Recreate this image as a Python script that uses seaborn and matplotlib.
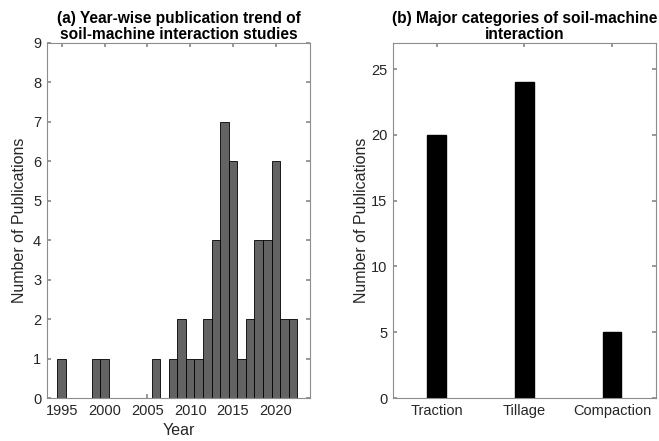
import matplotlib
matplotlib.use("Agg")
import matplotlib.pyplot as plt
import seaborn as sns
import pandas as pd

years = [1995, 1999, 2000, 2006, 2008, 2009, 2010, 2011, 2012, 2013, 2014,
         2015, 2016, 2017, 2018, 2019, 2020, 2021, 2022]
counts = [1, 1, 1, 1, 1, 2, 1, 1, 2, 4, 7, 6, 1, 2, 4, 4, 6, 2, 2]

categories = ["Traction", "Tillage", "Compaction"]
cat_counts = [20, 24, 5]

year_ticks = [1995, 2000, 2005, 2010, 2015, 2020]

sns.set_theme(style="white")
plt.rcParams["font.family"] = ["Liberation Sans", "DejaVu Sans"]

spine_col = "#8c8c8c"
text_col = "#262626"

fig = plt.figure(figsize=(6.59, 4.41), dpi=100)
ax1 = fig.add_axes([0.0709, 0.0975, 0.3996, 0.8057])
ax2 = fig.add_axes([0.5959, 0.0975, 0.3996, 0.8057])

df1 = pd.DataFrame({"year": years, "n": counts})
sns.histplot(data=df1, x="year", weights="n", discrete=True, ax=ax1,
             color="#636363", alpha=1, edgecolor="black", linewidth=0.6)
ax1.set_xlim(1993.25, 2024)
ax1.set_ylim(0, 9)
ax1.set_xticks(year_ticks)
ax1.set_yticks(range(0, 10))
ax1.set_xlabel("Year", fontsize=11.5, color=text_col, labelpad=4)
ax1.set_ylabel("Number of Publications", fontsize=11.5, color=text_col, labelpad=4)
ax1.set_title("(a) Year-wise publication trend of\nsoil-machine interaction studies",
              fontsize=11.2, fontweight="bold", color="black", pad=3, linespacing=1.05)

df2 = pd.DataFrame({"cat": categories, "n": cat_counts})
sns.barplot(data=df2, x="cat", y="n", ax=ax2, color="black", width=0.21,
            saturation=1, edgecolor="black")
ax2.set_xlim(-0.5, 2.5)
ax2.set_ylim(0, 27)
ax2.set_yticks([0, 5, 10, 15, 20, 25])
ax2.set_xlabel("")
ax2.set_ylabel("Number of Publications", fontsize=11.5, color=text_col, labelpad=1)
ax2.set_title("(b) Major categories of soil-machine\ninteraction",
              fontsize=11.2, fontweight="bold", color="black", pad=3, linespacing=1.05)

for ax in (ax1, ax2):
    for s in ax.spines.values():
        s.set_color(spine_col)
        s.set_linewidth(0.8)
        s.set_visible(True)
    ax.tick_params(axis="both", which="both", direction="in", length=3,
                   color=spine_col, labelsize=10.5, labelcolor=text_col,
                   top=True, right=True, bottom=True, left=True, pad=4)

fig.savefig("out.png", dpi=100)
